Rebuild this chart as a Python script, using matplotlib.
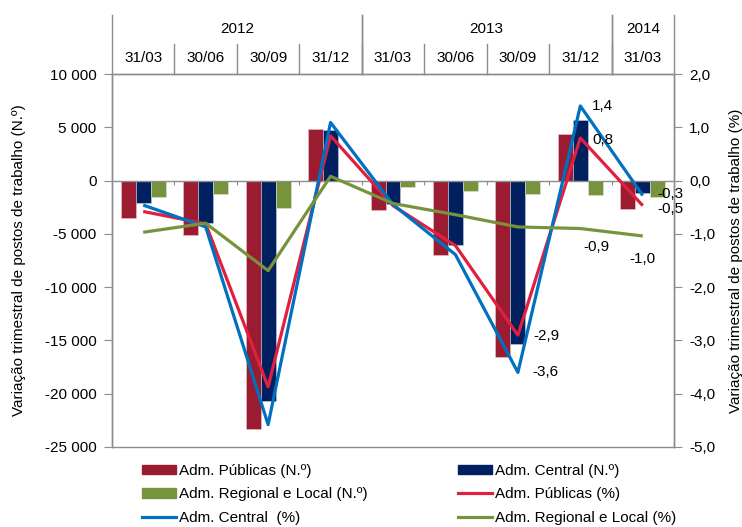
import matplotlib
matplotlib.use('Agg')
import matplotlib.pyplot as plt
from matplotlib.patches import Patch
from matplotlib.lines import Line2D
from matplotlib.ticker import FuncFormatter

plt.rcParams['font.family'] = ['Liberation Sans', 'DejaVu Sans']

# Quarter end dates and their years
dates = ['31/03', '30/06', '30/09', '31/12', '31/03', '30/06', '30/09', '31/12', '31/03']
years = ['2012', '2013', '2014']
yearSpans = [(0, 3), (4, 7), (8, 8)]

# Quarterly change in number of jobs (N.º)
pubN = [-3550, -5150, -23300, 4850, -2750, -6950, -16550, 4400, -2650]
cenN = [-2100, -3950, -20700, 4750, -2200, -6000, -15350, 5700, -1150]
regN = [-1500, -1250, -2550, 100, -600, -1000, -1300, -1350, -1500]

# Quarterly change in number of jobs (%)
pubPct = [-0.58, -0.81, -3.87, 0.84, -0.47, -1.22, -2.9, 0.8, -0.47]
cenPct = [-0.46, -0.87, -4.58, 1.09, -0.45, -1.39, -3.6, 1.4, -0.28]
regPct = [-0.97, -0.80, -1.69, 0.08, -0.43, -0.64, -0.87, -0.9, -1.04]

# Colours
cPubBar, cCenBar, cRegBar = '#9B1B30', '#002060', '#77933C'
cPubLine, cCenLine, cRegLine = '#E0203E', '#0070C0', '#77933C'
grey = '#8C8C8C'
fs = 11

fig = plt.figure(figsize=(7.42, 5.27), dpi=100)
ax = fig.add_axes([112 / 742, 1 - 447 / 527, (674 - 112) / 742, (447 - 74) / 527])
ax2 = ax.twinx()

x = list(range(len(dates)))
w = 0.24
ax.bar([i - w for i in x], pubN, w, color=cPubBar, edgecolor='#e6c8cc', linewidth=0.4)
ax.bar(x, cenN, w, color=cCenBar, edgecolor='#c8cce0', linewidth=0.4)
ax.bar([i + w for i in x], regN, w, color=cRegBar, edgecolor='#dfe6cf', linewidth=0.4)

ax2.plot(x, pubPct, color=cPubLine, lw=2.3, solid_capstyle='butt')
ax2.plot(x, cenPct, color=cCenLine, lw=2.3, solid_capstyle='butt')
ax2.plot(x, regPct, color=cRegLine, lw=2.3, solid_capstyle='butt')

# Axis limits / ticks
ax.set_xlim(-0.5, len(dates) - 0.5)
ax.set_ylim(-25000, 10000)
ax.set_yticks(range(-25000, 10001, 5000))
ax.yaxis.set_major_formatter(FuncFormatter(lambda v, p: '{:,.0f}'.format(v).replace(',', ' ')))
ax2.set_ylim(-5, 2)
ax2.set_yticks(range(-5, 3))
ax2.yaxis.set_major_formatter(FuncFormatter(lambda v, p: '{:.1f}'.format(v).replace('.', ',')))

for a in (ax, ax2):
    for s in a.spines.values():
        s.set_color(grey)
        s.set_linewidth(1.0)
ax.spines['bottom'].set_position(('data', 0))
ax2.spines['bottom'].set_visible(False)
ax.axhline(-25000, color=grey, lw=1.0, clip_on=False)

ax.set_xticks([i + 0.5 for i in x[:-1]])
ax.tick_params(axis='x', direction='out', length=3, color=grey, labelbottom=False)
ax.tick_params(axis='y', direction='out', length=6, color=grey, labelsize=fs, pad=5)
ax2.tick_params(axis='y', direction='out', length=6, color=grey, labelsize=fs, pad=5)

ax.set_ylabel('Variação trimestral de postos de trabalho (N.º)', fontsize=fs, labelpad=14)
ax2.set_ylabel('Variação trimestral de postos de trabalho (%)', fontsize=fs, rotation=90, labelpad=10)

# Header table (years / dates) above the plot
tr = ax.get_xaxis_transform()
yDate, yYear = 1.043, 1.121
yDateTop, yYearTop = 1.080, 1.158
for i, d in enumerate(dates):
    ax.text(i, yDate, d, transform=tr, ha='center', va='center', fontsize=fs)
for i in range(1, len(dates)):
    ax.plot([i - 0.5, i - 0.5], [1, yDateTop], transform=tr, color=grey, lw=1.0, clip_on=False)
for yr, (a0, a1) in zip(years, yearSpans):
    ax.text((a0 + a1) / 2, yYear, yr, transform=tr, ha='center', va='center', fontsize=fs)
    for b in (a0 - 0.5, a1 + 0.5):
        ax.plot([b, b], [1, yYearTop], transform=tr, color=grey, lw=1.0, clip_on=False)

# Data labels on the percentage lines (offsets in pixels)
labels = [
    (7, cenPct, '1,4', 12, 0, 'left', 'center'),
    (7, pubPct, '0,8', 12, -2, 'left', 'center'),
    (8, cenPct, '-0,3', 15, 1, 'left', 'center'),
    (8, pubPct, '-0,5', 15, -3, 'left', 'center'),
    (7, regPct, '-0,9', 16, -18, 'center', 'center'),
    (8, regPct, '-1,0', 0, -23, 'center', 'center'),
    (6, pubPct, '-2,9', 15, -1, 'left', 'center'),
    (6, cenPct, '-3,6', 14, 0, 'left', 'center'),
]
for i, series, txt, dx, dy, ha, va in labels:
    ax2.annotate(txt, (i, series[i]), xytext=(dx, dy), textcoords='offset pixels',
                 ha=ha, va=va, fontsize=fs)

# Legend, as two single-column blocks
legKw = dict(loc='upper left', frameon=False, fontsize=fs, handlelength=2.2, handleheight=0.6,
             handletextpad=0.2, labelspacing=0.62, borderpad=0, borderaxespad=0)
fig.legend([Patch(color=cPubBar), Patch(color=cRegBar), Line2D([], [], color=cCenLine, lw=2.3)],
           ['Adm. Públicas (N.º)', 'Adm. Regional e Local (N.º)', 'Adm. Central  (%)'],
           bbox_to_anchor=(142 / 742, 1 - 464 / 527), **legKw)
fig.legend([Patch(color=cCenBar), Line2D([], [], color=cPubLine, lw=2.3), Line2D([], [], color=cRegLine, lw=2.3)],
           ['Adm. Central (N.º)', 'Adm. Públicas (%)', 'Adm. Regional e Local (%)'],
           bbox_to_anchor=(458 / 742, 1 - 464 / 527), **legKw)

fig.savefig('out.png', dpi=100)
